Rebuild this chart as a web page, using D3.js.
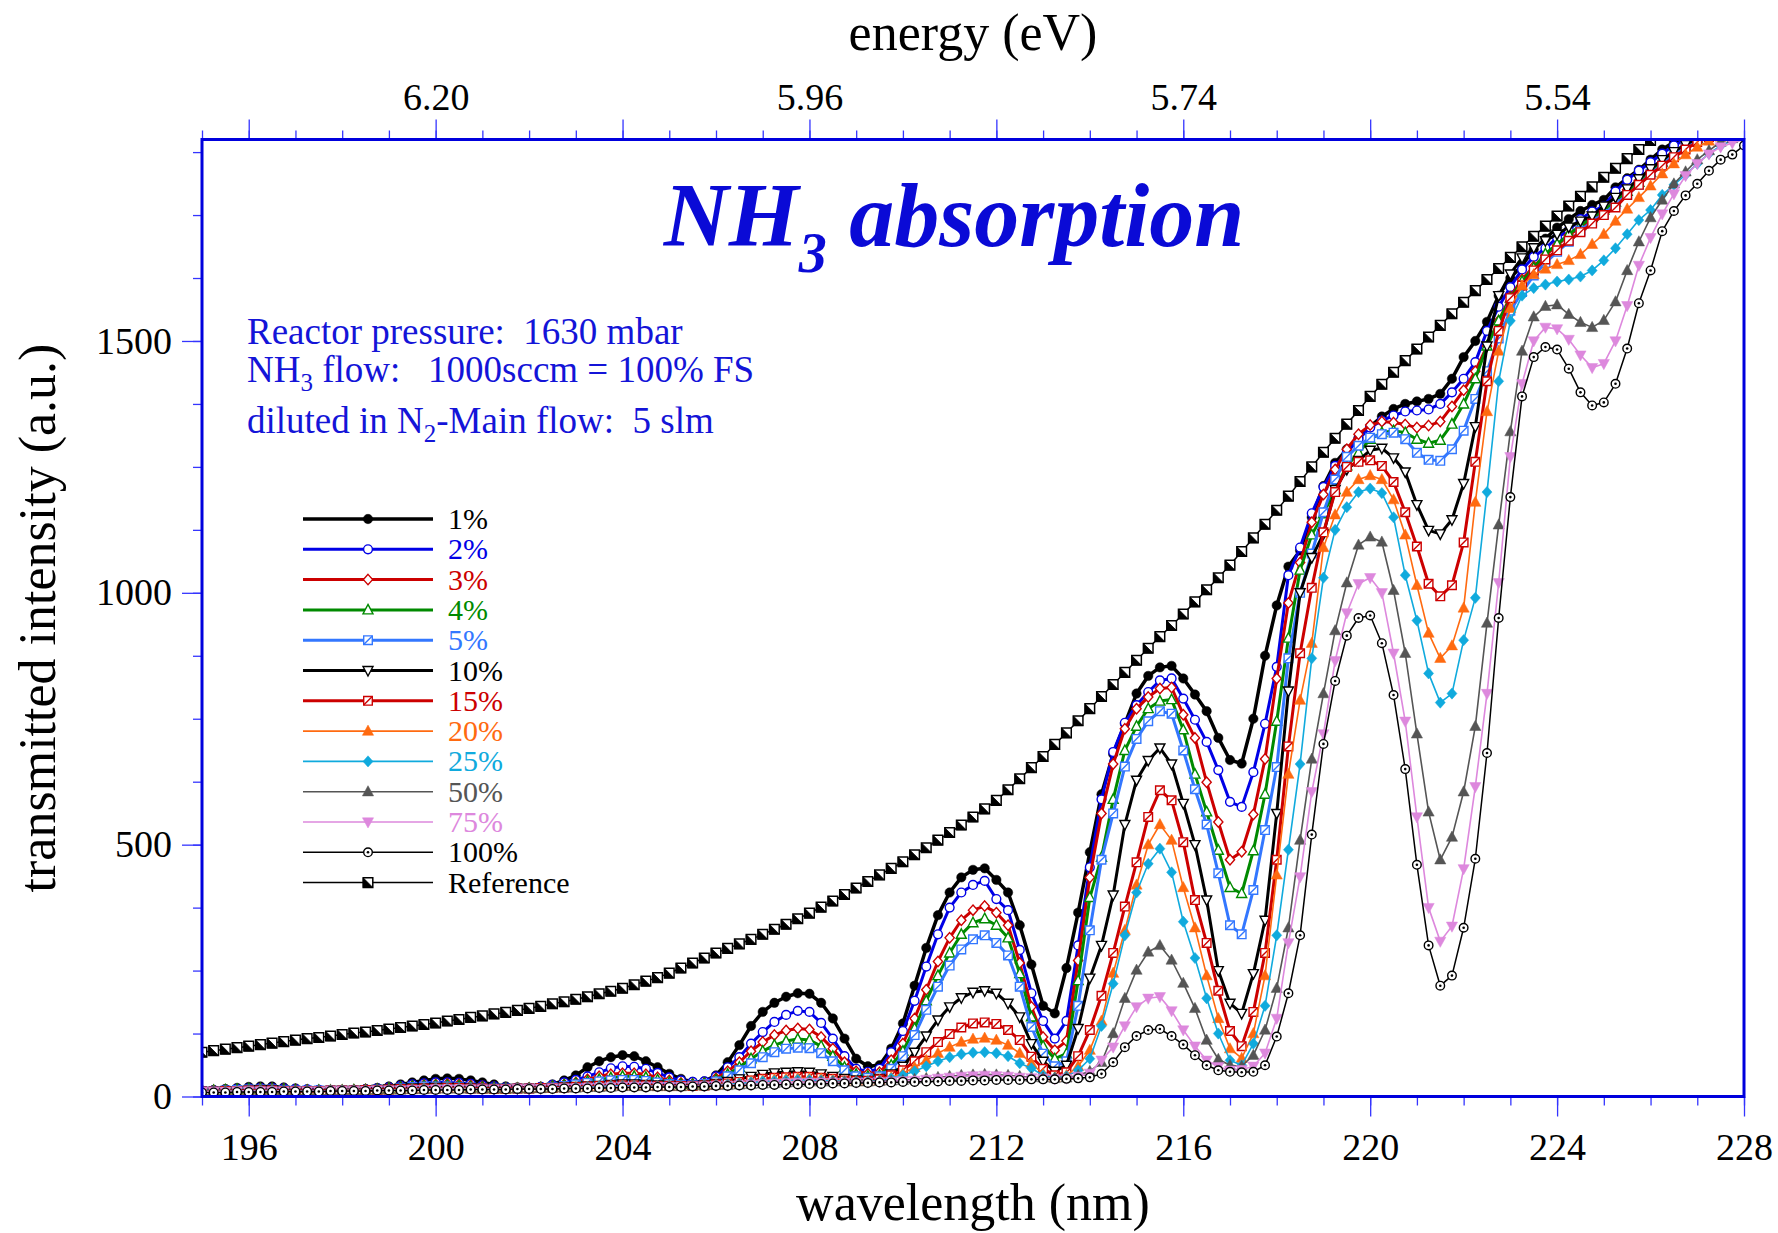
<!DOCTYPE html>
<html><head><meta charset="utf-8">
<script src="https://cdn.jsdelivr.net/npm/d3@7"></script>
<style>
body{margin:0;background:#fff;}
svg{display:block;font-family:"Liberation Serif","Times New Roman",serif;}
</style></head><body>
<svg id="chart" width="1778" height="1233"></svg>
<script>
// ---------- DATA ----------
const lambdaStart = 195, lambdaStep = 0.25, nPoints = 133;   // sampling grid 195..228 nm
const wavelengths = d3.range(nPoints).map(i => lambdaStart + i * lambdaStep);

const seriesLabels = ["1%","2%","3%","4%","5%","10%","15%","20%","25%","50%","75%","100%","Reference"];

const s1 = [12,13,15,17, 19,20,20,18, 16,14,13,12, 12,13,15,17, 20,24,28,32, 35,36,35,32, 28,24,20,18, 17,19,24,32, 42,58,70,78, 82,80,70,58, 45,35,29,30, 42,68,102,140, 168,186,198,205, 204,186,155,115, 75,60,62,95, 145,220,295,360, 405,435,450,453, 430,405,340,262, 180,165,255,365, 485,600,680,740, 800,835,852,855, 830,798,765,712, 668,661,750,875, 975,1052,1084,1150, 1212,1258,1285,1308, 1330,1350,1365,1375, 1380,1385,1395,1425, 1468,1500,1538,1590, 1625,1650,1682,1703, 1725,1742,1758,1770, 1780,1805,1823,1840, 1860,1880,1895,1905, 1912,1918,1922,1925, 1928];
const s2 = [11,12,13,15, 16,17,17,16, 15,14,13,12, 12,13,14,16, 18,21,24,26, 28,28,27,25, 22,20,18,17, 17,19,23,28, 33,40,48,56, 60,59,55,47, 38,32,29,30, 40,58,78,105, 128,148,162,170, 168,146,115,80, 55,49,55,88, 130,190,258,322, 375,405,420,428, 392,370,291,205, 150,115,150,300, 455,590,684,742, 777,803,826,830, 790,748,704,648, 585,575,644,740, 853,1035,1090,1158, 1210,1252,1278,1305, 1328,1342,1352,1360, 1362,1364,1375,1398, 1425,1458,1520,1568, 1607,1642,1667,1684, 1705,1720,1742,1757, 1768,1797,1820,1838, 1855,1872,1888,1900, 1910,1915,1920,1924, 1928];
const s3 = [11,12,13,14, 15,16,16,15, 14,13,12,12, 12,13,14,15, 17,19,21,23, 24,25,24,22, 20,18,17,17, 17,18,21,24, 28,34,40,44, 46,46,44,38, 32,27,25,27, 36,50,68,90, 108,122,131,135, 133,118,95,68, 50,45,48,72, 105,155,212,268, 315,350,370,378, 365,340,265,178, 118,92,110,270, 435,562,660,730, 770,793,810,812, 758,712,624,545, 470,486,560,670, 830,980,1060,1140, 1195,1245,1285,1315, 1333,1340,1338,1334, 1328,1332,1340,1370, 1402,1440,1490,1540, 1588,1622,1648,1670, 1690,1710,1726,1740, 1755,1780,1800,1818, 1835,1855,1872,1892, 1902,1910,1915,1920, 1924];
const s4 = [11,12,13,14, 15,15,15,14, 13,12,12,12, 12,13,13,14, 16,18,20,21, 22,22,21,19, 18,17,16,16, 16,17,20,23, 26,30,34,37, 40,40,38,33, 28,24,24,26, 33,44,58,75, 90,102,110,114, 112,100,80,58, 44,40,42,62, 90,135,190,240, 285,322,345,353, 340,315,244,158, 100,75,85,230, 395,475,590,687, 735,770,785,788, 728,640,565,489, 415,403,488,600, 745,910,1045,1115, 1157,1205,1252,1278, 1305,1318,1322,1318, 1305,1297,1303,1335, 1375,1425,1490,1540, 1585,1618,1645,1673, 1692,1712,1729,1745, 1760,1776,1797,1815, 1835,1855,1872,1887, 1902,1910,1915,1920, 1924];
const s5 = [11,11,12,13, 14,14,14,13, 12,12,12,12, 12,12,13,14, 15,17,19,20, 20,20,19,18, 17,16,16,16, 16,17,19,21, 24,27,30,32, 33,33,31,28, 25,23,23,25, 30,40,52,66, 78,88,95,97, 96,86,70,52, 40,37,40,55, 80,122,172,218, 260,292,312,320, 305,280,218,138, 85,60,70,180, 330,470,562,655, 710,745,765,760, 687,610,540,443, 340,322,410,529, 654,870,1000,1078, 1160,1225,1270,1292, 1308,1315,1318,1305, 1278,1264,1262,1285, 1322,1385,1440,1505, 1560,1597,1630,1655, 1677,1697,1719,1737, 1752,1772,1790,1810, 1832,1850,1870,1887, 1900,1908,1914,1918, 1922];
const s10 = [10,10,11,11, 12,13,13,12, 11,11,11,12, 12,12,13,14, 15,16,17,17, 18,18,18,17, 16,16,16,16, 16,17,18,19, 20,21,22,24, 25,25,24,23, 22,21,22,23, 26,30,35,40, 44,47,48,49, 48,45,40,36, 33,32,36,45, 60,88,120,152, 178,196,207,210, 205,185,158,105, 70,50,62,135, 235,300,400,540, 628,667,692,660, 582,500,390,250, 185,165,244,350, 562,805,1000,1070, 1117,1205,1245,1263, 1283,1287,1268,1240, 1175,1124,1117,1145, 1217,1330,1490,1590, 1633,1665,1685,1699, 1712,1726,1738,1748, 1768,1785,1802,1822, 1842,1860,1876,1890, 1902,1910,1915,1920, 1924];
const s15 = [10,10,11,11, 12,12,12,11, 11,11,11,12, 12,12,13,13, 14,15,15,16, 16,17,17,16, 16,15,15,16, 16,17,17,18, 19,20,21,22, 22,22,22,21, 21,21,21,22, 24,26,29,32, 35,37,38,39, 39,37,35,32, 31,31,34,42, 52,70,88,108, 124,137,145,147, 144,132,112,79, 55,42,48,80, 132,200,285,377, 465,555,608,588, 505,390,305,210, 130,100,168,285, 470,695,880,1010, 1120,1200,1250,1260, 1263,1252,1220,1160, 1092,1018,993,1015, 1100,1260,1420,1520, 1585,1610,1640,1662, 1680,1699,1716,1733, 1750,1765,1790,1810, 1830,1848,1865,1880, 1895,1905,1912,1918, 1922];
const s20 = [10,10,10,11, 11,12,12,11, 11,11,11,12, 12,12,12,13, 13,14,14,15, 16,16,16,16, 15,15,15,16, 16,16,17,18, 18,19,20,21, 21,21,21,20, 20,20,21,22, 23,25,27,30, 32,34,35,36, 36,35,33,31, 30,30,32,38, 46,58,72,86, 98,108,114,116, 112,102,86,66, 45,38,42,60, 92,150,245,330, 420,500,540,509, 415,335,240,155, 95,76,125,240, 440,640,787,900, 1090,1155,1200,1225, 1233,1225,1185,1115, 1015,920,870,895, 970,1180,1360,1480, 1565,1610,1632,1643, 1652,1660,1672,1692, 1712,1738,1762,1785, 1808,1832,1852,1870, 1885,1897,1905,1910, 1915];
const s25 = [10,10,10,11, 11,12,12,11, 11,11,11,12, 12,12,12,13, 13,14,14,15, 16,16,16,16, 15,15,15,16, 16,16,17,18, 18,19,20,21, 21,21,21,20, 20,20,21,22, 23,24,26,28, 30,31,32,33, 33,32,31,30, 30,30,31,36, 42,50,60,70, 78,84,87,88, 86,80,66,56, 42,37,40,52, 75,140,224,320, 405,462,492,445, 347,275,195,125, 72,62,105,180, 320,490,660,870, 1030,1125,1170,1200, 1207,1198,1150,1035, 945,840,782,800, 906,990,1200,1420, 1540,1590,1605,1612, 1618,1622,1628,1640, 1660,1684,1712,1740, 1760,1790,1810,1830, 1852,1872,1888,1898, 1905];
const s50 = [10,10,10,11, 11,11,11,11, 11,11,11,12, 12,12,12,13, 13,13,14,14, 15,15,15,15, 15,15,15,16, 16,16,17,17, 17,18,18,19, 20,20,20,20, 20,20,21,21, 22,22,23,24, 25,26,27,28, 29,29,29,29, 29,29,30,31, 32,34,36,38, 40,42,43,44, 43,42,40,38, 37,36,37,42, 50,68,125,195, 251,287,300,271, 225,175,112,74, 62,60,82,132, 215,335,509,670, 800,925,1020,1095, 1111,1101,1005,880, 720,565,470,515, 605,735,940,1135, 1320,1480,1548,1569, 1572,1553,1537,1527, 1541,1578,1640,1697, 1745,1780,1812,1836, 1860,1878,1895,1902, 1908];
const s75 = [10,10,10,11, 11,11,11,11, 11,11,11,12, 12,12,12,13, 13,13,14,14, 15,15,15,15, 15,15,15,16, 16,16,17,17, 17,18,18,19, 20,20,20,20, 20,20,21,21, 22,22,23,24, 25,26,27,28, 28,28,28,28, 28,28,29,30, 31,32,34,36, 38,40,41,42, 41,40,38,37, 36,35,36,40, 46,72,98,140, 178,195,198,170, 132,100,72,59, 52,53,60,86, 155,305,436,605, 720,865,960,1018, 1030,1000,880,745, 555,375,308,338, 452,615,800,1020, 1270,1415,1500,1527, 1524,1503,1472,1447, 1455,1500,1570,1650, 1705,1752,1792,1828, 1852,1871,1885,1893, 1900];
const s100 = [8,8,8,9, 9,9,9,10, 10,10,10,11, 11,11,11,12, 12,12,12,13, 13,13,13,14, 14,14,14,15, 15,15,15,16, 16,16,17,17, 18,18,18,19, 19,19,20,20, 21,21,22,22, 23,23,24,24, 25,25,26,26, 27,27,28,28, 29,29,30,30, 31,31,32,32, 33,33,33,34, 34,34,35,36, 38,45,68,98, 120,132,134,120, 103,82,62,52, 49,48,49,62, 119,205,320,520, 700,825,915,950, 955,900,797,650, 460,300,220,240, 335,472,682,950, 1190,1390,1468,1488, 1483,1445,1398,1372, 1378,1415,1485,1575, 1640,1718,1758,1789, 1812,1838,1860,1870, 1888];
const sRef = [88,91,94,97, 100,103,106,109, 112,115,117,120, 123,126,128,131, 134,137,140,143, 146,150,153,157, 160,164,167,171, 175,179,184,188, 193,198,204,209, 215,222,229,236, 245,255,265,275, 285,294,303,312, 322,332,342,353, 364,376,388,401, 414,427,440,453, 466,480,494,509, 524,539,555,571, 588,609,631,653, 675,699,722,746, 770,794,818,842, 866,890,913,935, 958,982,1006,1030, 1055,1082,1109,1136, 1164,1192,1221,1250, 1279,1307,1335,1362, 1390,1414,1438,1461, 1484,1508,1531,1554, 1577,1600,1622,1644, 1666,1687,1708,1728, 1748,1768,1787,1806, 1825,1843,1862,1880, 1898,1914,1930,1945, 1960,1975,1990,2005, 2020];

const seriesColors = ["#000000","#0000e6","#cc0000","#008a00","#3377ff","#000000","#cc0000","#ff6a10","#10aadd","#555555","#dd88dd","#000000","#000000"];
const seriesWidths = [3.5,3,3,3,3,3,3,1.6,1.6,1.6,1.6,1.5,1.5];
const seriesMarkers = ["circleFilled","circleOpen","diamondOpen","triUpOpen","squareSlash","triDownOpen","squareSlash","triUpFilled","diamondFilled","triUpFilled","triDownFilled","circleDot","squareBack"];
const seriesValues = [s1,s2,s3,s4,s5,s10,s15,s20,s25,s50,s75,s100,sRef];

const xMajorTicks = [196,200,204,208,212,216,220,224,228];
const yMajorTicks = [0,500,1000,1500];
const energyTickWavelengths = [200,208,216,224];
const energyTickLabels = ["6.20","5.96","5.74","5.54"];

const annotationLines = ["Reactor pressure:\u00a0\u00a01630 mbar", "\u00a0flow:\u00a0\u00a0\u00a01000sccm = 100% FS", "-Main flow:\u00a0\u00a05 slm"];

// ---------- LAYOUT ----------
const svg = d3.select("#chart");
const L = 202, R = 1744, T = 139.5, B = 1096.5;
const x = d3.scaleLinear().domain([195,228]).range([L,R]);
const y = d3.scaleLinear().domain([0,1900]).range([B,T]);
const tickColor = "#3535ff", frameColor = "#0000dd";

seriesValues.forEach((s,i)=>{ if(s.length!==nPoints) console.error("length mismatch", seriesLabels[i], s.length); });

svg.append("defs").append("clipPath").attr("id","plotclip")
  .append("rect").attr("x",L).attr("y",T).attr("width",R-L).attr("height",B-T);

// ---------- markers ----------
function markerShapes(type, color){
  const out = [];
  const sw = 1.4;
  switch(type){
    case "circleFilled": out.push({tag:"circle", r:4.7, fill:color, stroke:color, sw:0.5}); break;
    case "circleOpen": out.push({tag:"circle", r:4.4, fill:"#fff", stroke:color, sw:sw}); break;
    case "circleDot": out.push({tag:"circle", r:4.3, fill:"#fff", stroke:color, sw:1.4}); out.push({tag:"circle", r:1.3, fill:color, stroke:"none", sw:0}); break;
    case "diamondOpen": out.push({tag:"path", d:"M0,-5.2L4.6,0L0,5.2L-4.6,0Z", fill:"#fff", stroke:color, sw:sw}); break;
    case "diamondFilled": out.push({tag:"path", d:"M0,-5.6L5,0L0,5.6L-5,0Z", fill:color, stroke:color, sw:0.5}); break;
    case "triUpOpen": out.push({tag:"path", d:"M0,-5.5L5,4L-5,4Z", fill:"#fff", stroke:color, sw:sw}); break;
    case "triUpFilled": out.push({tag:"path", d:"M0,-6L5.6,4.2L-5.6,4.2Z", fill:color, stroke:color, sw:0.5}); break;
    case "triDownOpen": out.push({tag:"path", d:"M0,5.5L5,-4L-5,-4Z", fill:"#fff", stroke:color, sw:sw}); break;
    case "triDownFilled": out.push({tag:"path", d:"M0,6L5.6,-4.2L-5.6,-4.2Z", fill:color, stroke:color, sw:0.5}); break;
    case "squareSlash": out.push({tag:"path", d:"M-4.3,-4.3h8.6v8.6h-8.6Z", fill:"#fff", stroke:color, sw:sw}); out.push({tag:"path", d:"M-4.3,4.3L4.3,-4.3", fill:"none", stroke:color, sw:sw}); break;
    case "squareBack": out.push({tag:"path", d:"M-4.8,-4.8h9.6v9.6h-9.6Z", fill:"#fff", stroke:color, sw:1.5}); out.push({tag:"path", d:"M-4.8,-4.8L4.8,4.8L-4.8,4.8Z", fill:color, stroke:color, sw:0.8}); break;
  }
  return out;
}
function drawMarker(g, type, color, cx, cy){
  markerShapes(type,color).forEach(s=>{
    const el = g.append(s.tag).attr("transform",`translate(${cx},${cy})`)
      .attr("fill",s.fill).attr("stroke",s.stroke).attr("stroke-width",s.sw);
    if(s.tag==="circle") el.attr("r",s.r); else el.attr("d",s.d);
  });
}

// ---------- curves ----------
const plot = svg.append("g").attr("clip-path","url(#plotclip)");
const line = d3.line().x((d,i)=>x(wavelengths[i])).y(d=>y(d));
seriesValues.forEach((vals,si)=>{
  const g = plot.append("g");
  g.append("path").attr("d",line(vals)).attr("fill","none")
    .attr("stroke",seriesColors[si]).attr("stroke-width",seriesWidths[si]).attr("stroke-linejoin","round");
  vals.forEach((v,i)=> drawMarker(g, seriesMarkers[si], seriesColors[si], x(wavelengths[i]), y(v)));
});

// ---------- axes ----------
function styleAxis(g){
  g.attr("font-family",null);
  g.select(".domain").remove();
  g.selectAll(".tick line").attr("stroke",tickColor).attr("stroke-width",1.3);
  g.selectAll(".tick text").attr("fill","#000").attr("font-size",38)
    .attr("font-family","'Liberation Serif','Times New Roman',serif");
}
const xMinor = d3.range(195,229,1);
svg.append("g").attr("transform",`translate(0,${B})`)
  .call(d3.axisBottom(x).tickValues(xMinor).tickSize(9).tickFormat("")).call(styleAxis);
svg.append("g").attr("transform",`translate(0,${B})`)
  .call(d3.axisBottom(x).tickValues(xMajorTicks).tickSize(20).tickPadding(17).tickFormat(d3.format("d"))).call(styleAxis);

svg.append("g").attr("transform",`translate(0,${T})`)
  .call(d3.axisTop(x).tickValues(xMinor).tickSize(9).tickFormat("")).call(styleAxis);
svg.append("g").attr("transform",`translate(0,${T})`)
  .call(d3.axisTop(x).tickValues(xMajorTicks).tickSize(20).tickPadding(10)
    .tickFormat(d=>{const k=energyTickWavelengths.indexOf(d); return k>=0?energyTickLabels[k]:"";})).call(styleAxis);

const yMinor = d3.range(0,1900,125);
svg.append("g").attr("transform",`translate(${L},0)`)
  .call(d3.axisLeft(y).tickValues(yMinor).tickSize(9).tickFormat("")).call(styleAxis);
svg.append("g").attr("transform",`translate(${L},0)`)
  .call(d3.axisLeft(y).tickValues(yMajorTicks).tickSize(20).tickPadding(10).tickFormat(d3.format("d"))).call(styleAxis);

// frame
svg.append("rect").attr("x",L).attr("y",T).attr("width",R-L).attr("height",B-T)
  .attr("fill","none").attr("stroke",frameColor).attr("stroke-width",3);

// axis titles
svg.append("text").attr("x",(L+R)/2).attr("y",1220).attr("text-anchor","middle")
  .attr("font-size",52).text("wavelength (nm)");
svg.append("text").attr("x",(L+R)/2).attr("y",50).attr("text-anchor","middle")
  .attr("font-size",52).text("energy (eV)");
svg.append("text").attr("transform",`translate(55,${(T+B)/2}) rotate(-90)`).attr("text-anchor","middle")
  .attr("font-size",52).text("transmitted intensity (a.u.)");

// title
const title = svg.append("text").attr("x",954).attr("y",246).attr("text-anchor","middle")
  .attr("font-size",90).attr("font-weight","bold").attr("font-style","italic").attr("fill","#0a0ad6");
title.append("tspan").text("NH");
title.append("tspan").attr("font-size",56).attr("dy",26).text("3");
title.append("tspan").attr("dy",-26).text(" absorption");

// annotation
const annColor = "#1414d8";
const ann = svg.append("g").attr("fill",annColor).attr("font-size",37);
ann.append("text").attr("x",247).attr("y",344).text(annotationLines[0]);
const a2 = ann.append("text").attr("x",247).attr("y",382);
a2.append("tspan").text("NH");
a2.append("tspan").attr("font-size",25).attr("dy",9).text("3");
a2.append("tspan").attr("dy",-9).text(annotationLines[1]);
const a3 = ann.append("text").attr("x",247).attr("y",433);
a3.append("tspan").text("diluted in N");
a3.append("tspan").attr("font-size",25).attr("dy",9).text("2");
a3.append("tspan").attr("dy",-9).text(annotationLines[2]);

// legend
const leg = svg.append("g");
seriesLabels.forEach((lab,i)=>{
  const ly = 519 + i*30.3;
  leg.append("line").attr("x1",303).attr("x2",433).attr("y1",ly).attr("y2",ly)
    .attr("stroke",seriesColors[i]).attr("stroke-width",seriesWidths[i]);
  drawMarker(leg, seriesMarkers[i], seriesColors[i], 368, ly);
  leg.append("text").attr("x",448).attr("y",ly+10).attr("font-size",30)
    .attr("fill",seriesColors[i]).text(lab);
});
</script>
</body></html>
